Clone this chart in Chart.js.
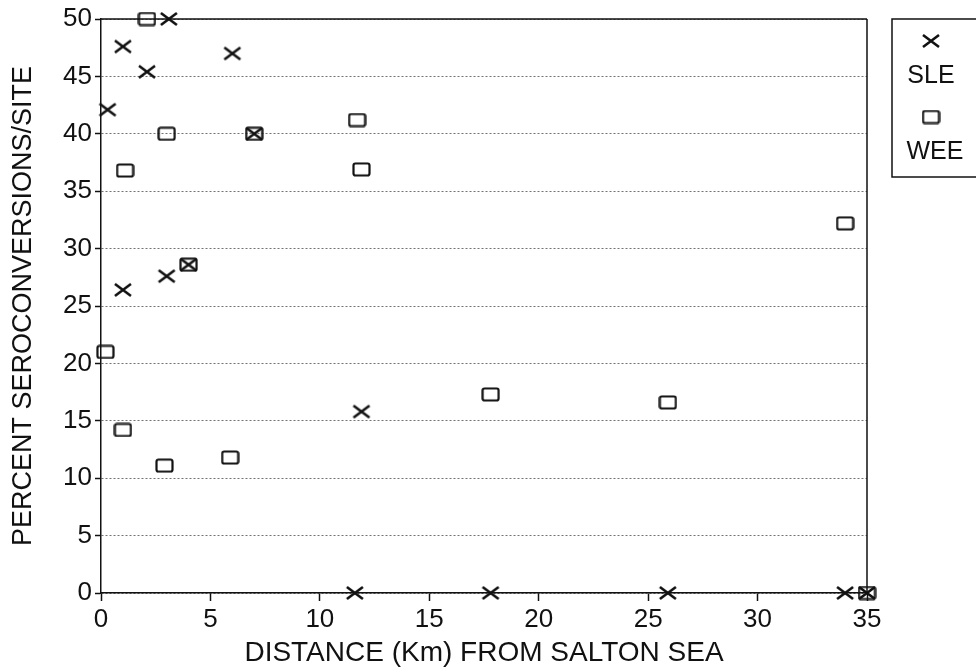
<!DOCTYPE html>
<html>
<head>
<meta charset="utf-8">
<script src="https://cdn.jsdelivr.net/npm/chart.js@4/dist/chart.umd.min.js"></script>
<style>
  html, body { margin: 0; padding: 0; background: #fff; }
  #wrap { position: relative; width: 976px; height: 667px; }
</style>
</head>
<body>
<div id="wrap"><canvas id="c" width="976" height="667"></canvas></div>
<script>
// ---- data ----
const seriesNames = ["SLE", "WEE"];
const sleDistance = [0.3, 1.0, 2.1, 3.1, 6.0, 7.0, 1.0, 3.0, 4.0, 11.9, 11.6, 17.8, 25.9, 34.0, 35.0];
const slePercent  = [42.1, 47.6, 45.4, 50, 47.0, 40, 26.4, 27.6, 28.6, 15.8, 0, 0, 0, 0, 0];
const weeDistance = [2.1, 3.0, 7.0, 1.1, 11.7, 11.9, 34.0, 4.0, 0.2, 1.0, 2.9, 5.9, 17.8, 25.9, 35.0];
const weePercent  = [50, 40, 40, 36.8, 41.2, 36.9, 32.2, 28.6, 21.0, 14.2, 11.1, 11.8, 17.3, 16.6, 0];
const xTicks = [0, 5, 10, 15, 20, 25, 30, 35];
const yTicks = [0, 5, 10, 15, 20, 25, 30, 35, 40, 45, 50];
const xTitle = "DISTANCE (Km) FROM SALTON SEA";
const yTitle = "PERCENT SEROCONVERSIONS/SITE";

// ---- marker images ----
function makeCross() {
  const c = document.createElement('canvas');
  c.width = 20; c.height = 16;
  const g = c.getContext('2d');
  g.strokeStyle = '#111'; g.lineWidth = 2.6; g.lineCap = 'butt';
  g.beginPath();
  g.moveTo(2, 2); g.lineTo(18, 14);
  g.moveTo(18, 2); g.lineTo(2, 14);
  g.stroke();
  return c;
}
function makeSquare() {
  const c = document.createElement('canvas');
  c.width = 19; c.height = 15;
  const g = c.getContext('2d');
  g.strokeStyle = '#111'; g.lineWidth = 2.2;
  g.beginPath();
  if (g.roundRect) g.roundRect(1.5, 1.5, 16, 12, 2); else g.rect(1.5, 1.5, 16, 12);
  g.stroke();
  return c;
}
const crossImg = makeCross();
const squareImg = makeSquare();

const toPts = (xs, ys) => xs.map((x, i) => ({ x: x, y: ys[i] }));

const FONT = "'Liberation Sans', Arial, Helvetica, sans-serif";

const framePlugin = {
  id: 'frame',
  afterDatasetsDraw(chart) {
    const { ctx, chartArea: a } = chart;
    ctx.save();
    ctx.strokeStyle = '#111';
    ctx.lineWidth = 1.5;
    ctx.beginPath();
    ctx.moveTo(a.left, a.top); ctx.lineTo(a.right, a.top);
    ctx.moveTo(a.right, a.top); ctx.lineTo(a.right, a.bottom);
    ctx.stroke();
    ctx.restore();
  },
  afterDraw(chart) {
    const { ctx } = chart;
    ctx.save();
    // legend box
    ctx.strokeStyle = '#111';
    ctx.lineWidth = 1.5;
    ctx.strokeRect(892, 19, 100, 158);
    ctx.drawImage(crossImg, 931 - crossImg.width / 2, 41 - crossImg.height / 2);
    ctx.drawImage(squareImg, 931 - squareImg.width / 2, 117 - squareImg.height / 2);
    ctx.fillStyle = '#111';
    ctx.font = "25px " + FONT;
    ctx.textAlign = 'center';
    ctx.textBaseline = 'middle';
    ctx.fillText(seriesNames[0], 931, 76);
    ctx.fillText(seriesNames[1], 935, 152);
    ctx.restore();
  }
};

new Chart(document.getElementById('c'), {
  type: 'scatter',
  data: {
    datasets: [
      { label: seriesNames[0], data: toPts(sleDistance, slePercent), pointStyle: crossImg, clip: false },
      { label: seriesNames[1], data: toPts(weeDistance, weePercent), pointStyle: squareImg, clip: false }
    ]
  },
  options: {
    responsive: false,
    animation: false,
    devicePixelRatio: 1,
    layout: { padding: { top: 19, right: 109, bottom: 0, left: 0 } },
    plugins: { legend: { display: false }, tooltip: { enabled: false } },
    scales: {
      x: {
        type: 'linear', min: 0, max: 35,
        afterFit: s => { s.height = 74; },
        afterBuildTicks: s => { s.ticks = xTicks.map(v => ({ value: v })); },
        ticks: { color: '#111', font: { family: FONT, size: 26 }, padding: 3, maxRotation: 0, autoSkip: false },
        grid: { drawOnChartArea: false, drawTicks: true, tickLength: 8, tickColor: '#111', tickWidth: 1.5 },
        border: { color: '#111', width: 1.5 },
        title: { display: true, text: xTitle, color: '#111', font: { family: FONT, size: 28, lineHeight: 1 }, padding: { top: 0, bottom: 0 } }
      },
      y: {
        type: 'linear', min: 0, max: 50,
        afterFit: s => { s.width = 101; },
        afterBuildTicks: s => { s.ticks = yTicks.map(v => ({ value: v })); },
        ticks: { color: '#111', font: { family: FONT, size: 26 }, padding: 3 },
        grid: { color: 'rgba(0,0,0,0.55)', lineWidth: 1, tickLength: 6, tickColor: '#111', tickWidth: 1.5, tickBorderDash: [] },
        border: { color: '#111', width: 1.5, dash: [2, 2] },
        title: { display: true, text: yTitle, color: '#111', font: { family: FONT, size: 27 }, padding: { top: 7, bottom: 0 } }
      }
    }
  },
  plugins: [framePlugin]
});
</script>
</body>
</html>
